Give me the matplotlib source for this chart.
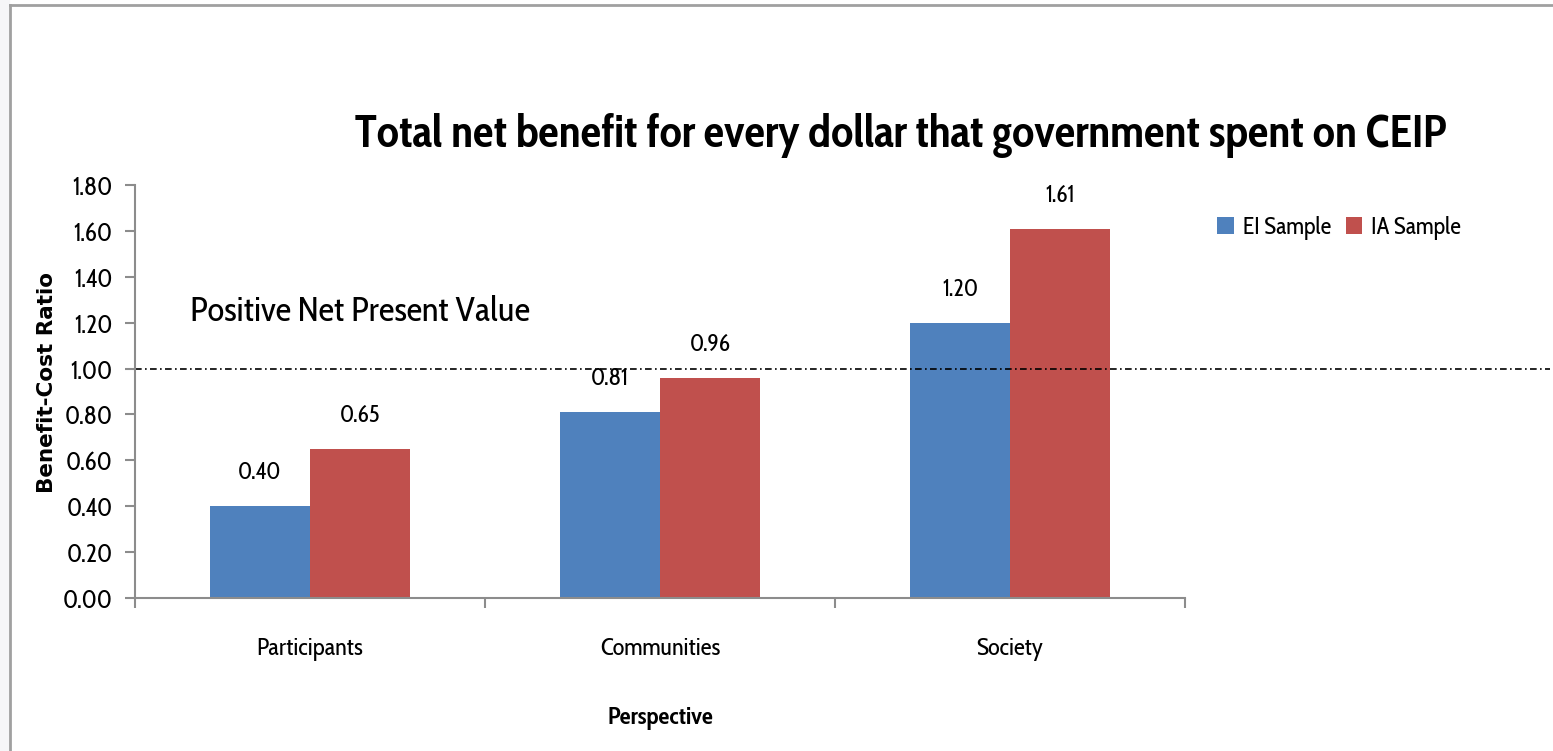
import matplotlib
matplotlib.use("Agg")
import matplotlib.pyplot as plt
from matplotlib.lines import Line2D
from matplotlib.patches import Rectangle
import numpy as np

# benefit-cost ratios by perspective
perspectives = ["Participants", "Communities", "Society"]
ei_sample = [0.40, 0.81, 1.20]
ia_sample = [0.65, 0.96, 1.61]
yticks = [0.0, 0.2, 0.4, 0.6, 0.8, 1.0, 1.2, 1.4, 1.6, 1.8]
npv_line = 1.0

plt.rcParams["font.family"] = ["Cabin Condensed", "DejaVu Sans"]

blue = "#4F81BD"
red = "#C0504D"
grey = "#8c8c8c"

fig = plt.figure(figsize=(15.53, 7.51), dpi=100)
ax = fig.add_axes([135 / 1553, 1 - 598 / 751, 1050 / 1553, 413 / 751])

x = np.arange(len(perspectives))
w = 0.286
b1 = ax.bar(x - w / 2, ei_sample, w, color=blue, label="EI Sample")
b2 = ax.bar(x + w / 2, ia_sample, w, color=red, label="IA Sample")

for bars, vals in ((b1, ei_sample), (b2, ia_sample)):
    for r, v in zip(bars, vals):
        ax.annotate(f"{v:.2f}", (r.get_x() + r.get_width() / 2, v),
                    xytext=(0, 15), textcoords="offset points",
                    ha="center", va="bottom", fontsize=17)

ax.set_xlim(-0.5, 2.5)
ax.set_ylim(0, 1.8)
ax.set_yticks(yticks)
ax.set_yticklabels([f"{t:.2f}" for t in yticks], fontsize=18)
ax.set_xticks(x)
ax.set_xticklabels(perspectives, fontsize=17.5)
ax.tick_params(axis="x", length=0, pad=28)
ax.set_xticks([-0.5, 0.5, 1.5, 2.5], minor=True)
ax.tick_params(axis="x", which="minor", length=7, width=1.5, color=grey)
ax.tick_params(axis="y", length=7, width=1.5, color=grey, pad=9)

for s in ("top", "right"):
    ax.spines[s].set_visible(False)
for s in ("left", "bottom"):
    ax.spines[s].set_color(grey)
    ax.spines[s].set_linewidth(1.5)

# NPV threshold runs past the plot area
ax.plot([0, 1.348], [npv_line, npv_line], transform=ax.get_yaxis_transform(),
        color="black", linestyle=(0, (4, 2, 1, 2)), linewidth=1.2, clip_on=False)
ax.text(-0.343, 1.247, "Positive Net Present Value", fontsize=25,
        ha="left", va="center")

ax.set_ylabel("Benefit-Cost Ratio", family="DejaVu Sans", fontweight="bold",
              fontsize=15.5)
ax.yaxis.set_label_coords(-0.074, 0.523)
ax.set_xlabel("Perspective", fontweight="bold", fontsize=17.5)
ax.xaxis.label.set_va("center")
ax.xaxis.set_label_coords(0.5, -0.29)

fig.text(0.580, 1 - 135 / 751, "Total net benefit for every dollar that government spent on CEIP",
         ha="center", va="center", fontsize=32.8, fontweight="bold")

ax.legend(loc="center left", bbox_to_anchor=(1196 / 1553, 1 - 228 / 751),
          bbox_transform=fig.transFigure, ncol=2, frameon=False, fontsize=17,
          handlelength=0.7, handleheight=0.7, handletextpad=0.4, columnspacing=0.6)

# outer frame
fig.add_artist(Rectangle((0, 0), 9 / 1553, 1, transform=fig.transFigure,
                         color="#f6f6f8", zorder=0))
fig.add_artist(Line2D([10 / 1553, 10 / 1553], [0, 1 - 5 / 751],
                      transform=fig.transFigure, color="#a0a0a0", linewidth=2))
fig.add_artist(Line2D([10 / 1553, 1], [1 - 5 / 751, 1 - 5 / 751],
                      transform=fig.transFigure, color="#a0a0a0", linewidth=2))

fig.savefig("out.png", dpi=100)
